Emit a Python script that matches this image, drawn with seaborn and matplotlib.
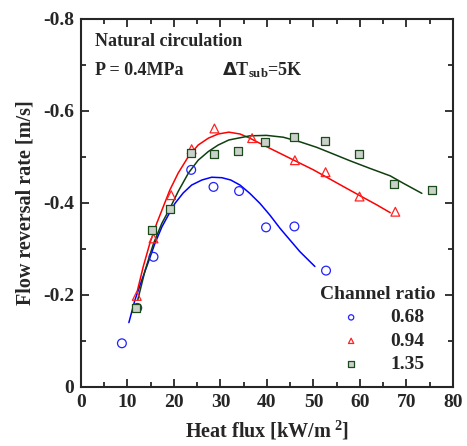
import pandas as pd
import matplotlib
matplotlib.use("Agg")
import matplotlib.pyplot as plt
from matplotlib.ticker import MultipleLocator
import seaborn as sns

flux_068 = [8.8, 12.1, 15.6, 23.7, 28.5, 34.0, 39.8, 45.9, 52.7]
rate_068 = [-0.095, -0.172, -0.283, -0.472, -0.435, -0.426, -0.347, -0.349, -0.253]

flux_094 = [12.0, 15.6, 19.4, 23.8, 28.7, 36.8, 46.0, 52.6, 59.9, 67.6]
rate_094 = [-0.198, -0.323, -0.417, -0.517, -0.562, -0.541, -0.493, -0.467, -0.414, -0.381]

flux_135 = [11.8, 15.3, 19.2, 23.7, 28.5, 33.8, 39.6, 45.9, 52.5, 59.8, 67.3, 75.5]
rate_135 = [-0.172, -0.341, -0.386, -0.508, -0.506, -0.514, -0.533, -0.543, -0.535, -0.507, -0.442, -0.429]

# fitted trend lines
fit_x_068 = [10.3, 11.6, 13.1, 14.5, 15.9, 17.4, 18.8, 20.2, 22.0, 23.8, 26.0, 28.1, 30.3,
             32.2, 34.2, 36.3, 38.5, 40.6, 42.8, 44.9, 47.1, 50.3]
fit_y_068 = [-0.140, -0.189, -0.233, -0.272, -0.312, -0.348, -0.374, -0.399, -0.422, -0.439,
             -0.450, -0.456, -0.455, -0.450, -0.439, -0.421, -0.399, -0.374, -0.345, -0.320,
             -0.294, -0.262]

fit_x_094 = [12.0, 13.4, 14.8, 16.3, 17.7, 19.1, 20.9, 23.1, 25.2, 27.4, 29.5, 31.8, 34.2,
             36.3, 39.2, 42.8, 46.4, 50.0, 53.9, 57.1, 60.7, 63.6, 66.5]
fit_y_094 = [-0.204, -0.262, -0.312, -0.356, -0.392, -0.428, -0.465, -0.501, -0.526, -0.541,
             -0.550, -0.554, -0.550, -0.541, -0.526, -0.508, -0.490, -0.472, -0.450, -0.432,
             -0.412, -0.396, -0.379]

fit_x_135 = [12.2, 13.8, 15.6, 17.4, 19.1, 20.9, 23.1, 25.2, 27.4, 29.5, 31.8, 36.3, 39.9,
             43.5, 47.1, 50.7, 53.9, 57.8, 62.2, 66.5, 69.3, 73.3]
fit_y_135 = [-0.189, -0.254, -0.312, -0.356, -0.388, -0.425, -0.465, -0.493, -0.512, -0.526,
             -0.537, -0.546, -0.547, -0.543, -0.533, -0.521, -0.508, -0.492, -0.475, -0.459,
             -0.443, -0.421]

ratios = ["0.68", "0.94", "1.35"]

sns.set_style("ticks")
plt.rcParams["font.family"] = ["Liberation Serif", "DejaVu Serif"]
plt.rcParams["font.weight"] = "bold"
plt.rcParams["mathtext.fontset"] = "custom"
plt.rcParams["mathtext.rm"] = "Liberation Serif:bold"
plt.rcParams["mathtext.bf"] = "Liberation Serif:bold"
plt.rcParams["mathtext.it"] = "Liberation Serif:bold"
plt.rcParams["mathtext.sf"] = "DejaVu Sans:bold"

# (points x, points y, fit x, fit y, marker, edge colour, face colour, line colour)
series = {
    "0.68": (flux_068, rate_068, fit_x_068, fit_y_068, "o", "#2222ff", "none", "#0000ff"),
    "0.94": (flux_094, rate_094, fit_x_094, fit_y_094, "^", "#ff2222", "none", "#ff0000"),
    "1.35": (flux_135, rate_135, fit_x_135, fit_y_135, "s", "#1c4a1c", "#c9d1c9", "#0f3f0f"),
}

fig = plt.figure(figsize=(4.67, 4.46), dpi=100)
ax = fig.add_axes([0.1734, 0.1323, 0.7966, 0.8251])

for r in ratios:
    px, py, fx, fy, mk, ec, fc, lc = series[r]
    sns.lineplot(x=fx, y=fy, ax=ax, color=lc, linewidth=1.1, legend=False, sort=False)
    df = pd.DataFrame({"flux": px, "rate": py})
    sns.scatterplot(data=df, x="flux", y="rate", ax=ax, marker=mk, s=40,
                    facecolor=fc, edgecolor=ec, linewidth=0.9, label=r, zorder=3)

ax.set_xlim(0, 80)
ax.set_ylim(0, -0.8)
ax.xaxis.set_major_locator(MultipleLocator(10))
ax.xaxis.set_minor_locator(MultipleLocator(5))
ax.yaxis.set_major_locator(MultipleLocator(0.2))
ax.yaxis.set_minor_locator(MultipleLocator(0.1))
ax.set_yticks([0, -0.2, -0.4, -0.6, -0.8])
ax.set_yticklabels(["0", "-0.2", "-0.4", "-0.6", "-0.8"])
ax.tick_params(which="both", direction="in", top=True, right=True,
               labelsize=14, width=1.3, pad=5)
ax.tick_params(which="major", length=6)
ax.tick_params(which="minor", length=3.5)
for s in ax.spines.values():
    s.set_linewidth(1.5)

ax.set_xlabel("Heat flux [kW/m$^{\\ 2}$]", fontsize=14.5, fontweight="bold", labelpad=6)
ax.set_ylabel("Flow reversal rate [m/s]", fontsize=14.5, fontweight="bold", labelpad=5)

ax.text(0.038, 0.9375, "Natural circulation", transform=ax.transAxes,
        fontsize=13, fontweight="bold", va="center")
ax.text(0.038, 0.861, "P = 0.4MPa", transform=ax.transAxes,
        fontsize=13, fontweight="bold", va="center")
ax.text(0.378, 0.861, "$\\mathsf{\\Delta}$T$_{\\mathrm{sub}}$=5K", transform=ax.transAxes,
        fontsize=13, fontweight="bold", va="center")

leg = ax.legend(title="Channel ratio", loc="lower right", frameon=False,
                bbox_to_anchor=(0.99, 0.0), markerscale=0.6, fontsize=14,
                title_fontproperties={"weight": "bold", "size": 14},
                handletextpad=1.0, labelspacing=0.3, borderaxespad=0.3)
leg._legend_box.align = "center"

fig.savefig("out.png", dpi=100)
